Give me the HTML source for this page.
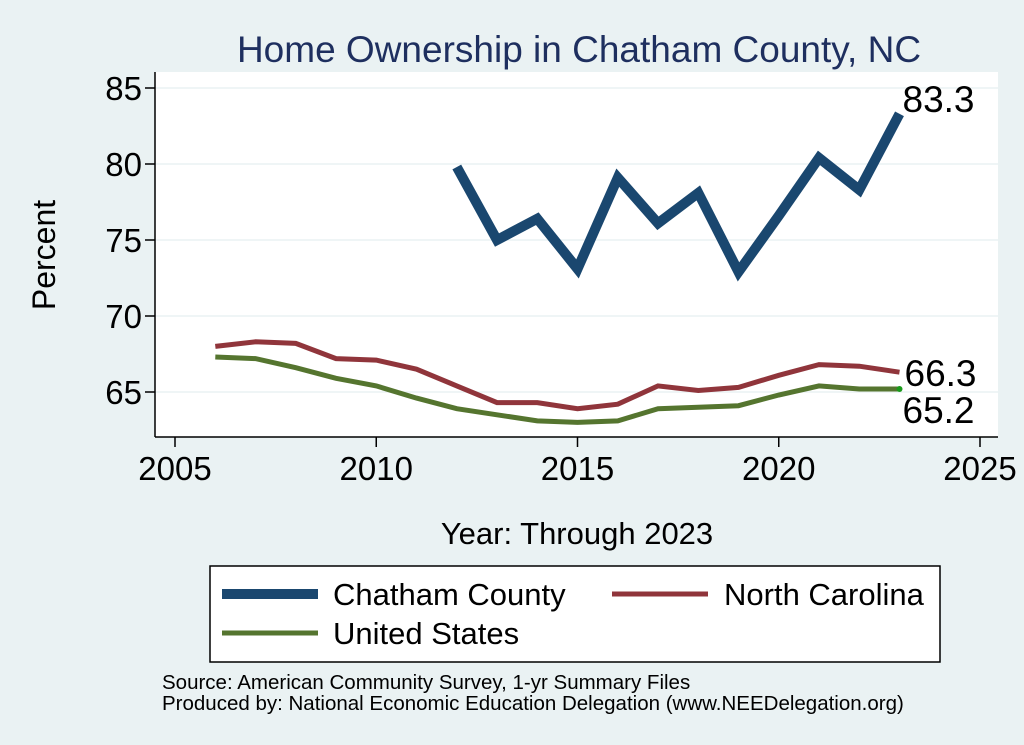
<!DOCTYPE html>
<html><head><meta charset="utf-8"><style>
body{margin:0;background:#eaf2f3;}
svg{display:block;font-family:"Liberation Sans",sans-serif;}
</style></head><body>
<svg id="chart" width="1024" height="745" viewBox="0 0 1024 745">
<rect x="0" y="0" width="1024" height="745" fill="#eaf2f3"/>
<text x="579" y="62" font-size="37" fill="#1e2f5f" text-anchor="middle">Home Ownership in Chatham County, NC</text>
<rect x="155" y="72" width="843" height="365" fill="#ffffff"/>
<g id="grid"></g>
<g id="axes"></g>
<g id="series"></g>
<text x="55" y="255" font-size="32" text-anchor="middle" transform="rotate(-90 55 255)">Percent</text>
<text x="577" y="544" font-size="31" text-anchor="middle">Year: Through 2023</text>
<g>
<rect x="210" y="566" width="730" height="96" fill="#fff" stroke="#000" stroke-width="1.5"/>
<line x1="222" y1="594" x2="318" y2="594" stroke="#1a476f" stroke-width="10"/>
<text x="333" y="605" font-size="31">Chatham County</text>
<line x1="612" y1="594" x2="708" y2="594" stroke="#90353b" stroke-width="5"/>
<text x="724" y="605" font-size="31">North Carolina</text>
<line x1="222" y1="633" x2="318" y2="633" stroke="#55752f" stroke-width="5"/>
<text x="333" y="644" font-size="31">United States</text>
</g>
<text x="162" y="689" font-size="20.5">Source: American Community Survey, 1-yr Summary Files</text>
<text x="162" y="710" font-size="20.5">Produced by: National Economic Education Delegation (www.NEEDelegation.org)</text>
</svg>
<script>
const years = [2006,2007,2008,2009,2010,2011,2012,2013,2014,2015,2016,2017,2018,2019,2020,2021,2022,2023];
const chatham = [null,null,null,null,null,null,79.8,75.0,76.4,73.1,79.1,76.1,78.1,72.9,76.6,80.4,78.3,83.3];
const northCarolina = [68.0,68.3,68.2,67.2,67.1,66.5,65.4,64.3,64.3,63.9,64.2,65.4,65.1,65.3,66.1,66.8,66.7,66.3];
const unitedStates = [67.3,67.2,66.6,65.9,65.4,64.6,63.9,63.5,63.1,63.0,63.1,63.9,64.0,64.1,64.8,65.4,65.2,65.2];
const xTicks = [2005,2010,2015,2020,2025];
const yTicks = [65,70,75,80,85];

const NS="http://www.w3.org/2000/svg";
const xs = v => 175 + (v-2005)*(980-175)/20;
const ys = v => 392 - (v-65)*(392-88)/20;
function mk(tag, attrs, parent, txt){const e=document.createElementNS(NS,tag);for(const k in attrs)e.setAttribute(k,attrs[k]);if(txt!==undefined)e.textContent=txt;document.getElementById(parent).appendChild(e);return e;}

yTicks.forEach(t=>{
  const g=mk('line',{x1:155,x2:998,y1:ys(t),y2:ys(t),stroke:'#eaf2f3','stroke-width':1.5},'grid');
  
  
  const tk=mk('line',{x1:145,x2:155,y1:ys(t),y2:ys(t),stroke:'#000','stroke-width':1.5},'axes');
  
  
  const lb=mk('text',{x:142,y:ys(t)+12,'font-size':33,'text-anchor':'end'},'axes',t);
  
  
});
xTicks.forEach(t=>{
  const tk=mk('line',{x1:xs(t),x2:xs(t),y1:437,y2:447,stroke:'#000','stroke-width':1.5},'axes');
  
  
  const lb=mk('text',{x:xs(t),y:480,'font-size':33,'text-anchor':'middle'},'axes',t);
  
  
});
const ya=mk('line',{x1:155,x2:155,y1:72,y2:437,stroke:'#000','stroke-width':1.5},'axes');


const xa=mk('line',{x1:155,x2:998,y1:437,y2:437,stroke:'#000','stroke-width':1.5},'axes');



function draw(vals,color,w,name){
  const pts=[];vals.forEach((v,i)=>{if(v!==null)pts.push(xs(years[i]).toFixed(1)+','+ys(v).toFixed(1));});
  const p=mk('polyline',{points:pts.join(' '),fill:'none',stroke:color,'stroke-width':w,'stroke-linejoin':'miter'},'series');
  
  
}
draw(unitedStates,'#55752f',5,'line-united-states');
draw(northCarolina,'#90353b',5,'line-north-carolina');
draw(chatham,'#1a476f',10,'line-chatham-county');
const last=years.length-1;
const d=mk('circle',{cx:xs(years[last]),cy:ys(unitedStates[last]),r:3,fill:'#1a9a1a'},'series');


const l1=mk('text',{x:xs(years[last])+3,y:ys(chatham[last])-2,'font-size':37},'series',chatham[last].toFixed(1));


const l2=mk('text',{x:xs(years[last])+5,y:ys(northCarolina[last])+14,'font-size':37},'series',northCarolina[last].toFixed(1));


const l3=mk('text',{x:xs(years[last])+3,y:ys(unitedStates[last])+34,'font-size':37},'series',unitedStates[last].toFixed(1));


</script>
</body></html>
